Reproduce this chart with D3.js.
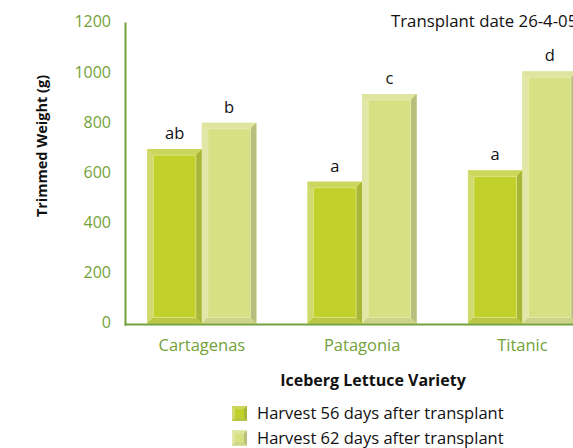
<!DOCTYPE html>
<html>
<head>
<meta charset="utf-8">
<script src="https://cdn.jsdelivr.net/npm/d3@7"></script>
<style>
  body { margin: 0; background: #fff; }
  svg { display: block; font-family: "Open Sans", "Noto Sans", sans-serif; }
</style>
</head>
<body>
<div id="chart"></div>
<script>
// data
var varieties = ["Cartagenas", "Patagonia", "Titanic"];
var seriesNames = ["Harvest 56 days after transplant", "Harvest 62 days after transplant"];
var harvest56 = [695, 565, 610];
var harvest62 = [800, 915, 1005];
var letters56 = ["ab", "a", "a"];
var letters62 = ["b", "c", "d"];
var yTicks = [0, 200, 400, 600, 800, 1000, 1200];

var svgWidth = 573, svgHeight = 448;
var axisGreen = "#74a23a";

// colours for the two series: face, light bevel, dark bevel, inner highlight
var palette = [
  { face: "#c2d02b", top: "#cad65c", left: "#d0da6e", right: "#a8b638", bottom: "#b9c745", hi: "#dfe88a" },
  { face: "#d8e084", top: "#dfe59e", left: "#e2e7a8", right: "#b8bf7c", bottom: "#cdd48a", hi: "#e8ecb4" }
];

var svg = d3.select("#chart").append("svg")
  .attr("width", svgWidth)
  .attr("height", svgHeight);

var x0 = d3.scaleBand()
  .domain(varieties)
  .range([121.7, 602.6])
  .paddingInner(0.32)
  .paddingOuter(0.16);

var x1 = d3.scaleBand()
  .domain([0, 1])
  .range([0, x0.bandwidth()]);

var y = d3.scaleLinear()
  .domain([0, 1200])
  .range([323.5, 22.5]);

// y tick labels
var yAxis = svg.append("g")
  .attr("transform", "translate(111,0)")
  .call(d3.axisLeft(y).tickValues(yTicks).tickFormat(d3.format("d")).tickSize(0).tickPadding(0));
yAxis.select(".domain").remove();
yAxis.selectAll("text")
  .attr("fill", axisGreen)
  .style("font-size", "16px")
  .style("font-family", "'Open Sans', sans-serif")
  .attr("dy", "0.28em");

// bars
var rows = varieties.map(function(v, i) {
  return { variety: v, values: [harvest56[i], harvest62[i]], letters: [letters56[i], letters62[i]] };
});

var groups = svg.selectAll(".group")
  .data(rows)
  .enter().append("g")
  .attr("class", "group")
  .attr("transform", d => `translate(${x0(d.variety)},0)`);

var bev = 6;
groups.each(function(d) {
  var g = d3.select(this);
  d.values.forEach(function(val, s) {
    var c = palette[s];
    var xl = x1(s), xr = x1(s) + x1.bandwidth();
    var yt = y(val), yb = y(0);
    g.append("rect")
      .attr("x", xl).attr("y", yt)
      .attr("width", xr - xl).attr("height", yb - yt)
      .attr("fill", c.face);
    var pts = {
      top: [[xl, yt], [xr, yt], [xr - bev, yt + bev], [xl + bev, yt + bev]],
      left: [[xl, yt], [xl + bev, yt + bev], [xl + bev, yb - bev], [xl, yb]],
      right: [[xr, yt], [xr, yb], [xr - bev, yb - bev], [xr - bev, yt + bev]],
      bottom: [[xl, yb], [xl + bev, yb - bev], [xr - bev, yb - bev], [xr, yb]]
    };
    Object.keys(pts).forEach(function(k) {
      g.append("polygon")
        .attr("points", pts[k].map(p => p.join(",")).join(" "))
        .attr("fill", c[k]);
    });
    g.append("rect")
      .attr("x", xl + bev).attr("y", yt + bev)
      .attr("width", xr - xl - 2 * bev).attr("height", yb - yt - 2 * bev)
      .attr("fill", "none")
      .attr("stroke", c.hi)
      .attr("stroke-width", 0.8);
    g.append("text")
      .attr("x", (xl + xr) / 2)
      .attr("y", yt - 10)
      .attr("text-anchor", "middle")
      .style("font-size", "16.5px")
      .attr("fill", "#111")
      .text(d.letters[s]);
  });
});

// axis lines
svg.append("line")
  .attr("x1", 125.5).attr("x2", 125.5)
  .attr("y1", y(1200)).attr("y2", 325.5)
  .attr("stroke", axisGreen).attr("stroke-width", 2);
svg.append("line")
  .attr("x1", 124.5).attr("x2", svgWidth)
  .attr("y1", 324.5).attr("y2", 324.5)
  .attr("stroke", axisGreen).attr("stroke-width", 2);

// category labels
var xAxis = svg.append("g")
  .attr("transform", "translate(0,324)")
  .call(d3.axisBottom(x0).tickSize(0).tickPadding(0));
xAxis.select(".domain").remove();
xAxis.selectAll("text")
  .attr("fill", axisGreen)
  .style("font-size", "16.5px")
  .style("font-family", "'Open Sans', sans-serif")
  .attr("dy", "1.65em");

// axis titles
svg.append("text")
  .attr("x", 373).attr("y", 386)
  .attr("text-anchor", "middle")
  .style("font-size", "16px")
  .style("font-weight", "bold")
  .attr("fill", "#111")
  .text("Iceberg Lettuce Variety");

svg.append("text")
  .attr("transform", "translate(47,146) rotate(-90)")
  .attr("text-anchor", "middle")
  .style("font-size", "14.5px")
  .style("font-weight", "bold")
  .attr("fill", "#111")
  .text("Trimmed Weight (g)");

// note top right
svg.append("text")
  .attr("x", 391).attr("y", 27)
  .style("font-size", "16.8px")
  .attr("fill", "#111")
  .text("Transplant date 26-4-05");

// legend
var legend = svg.selectAll(".legend")
  .data(seriesNames)
  .enter().append("g")
  .attr("class", "legend")
  .attr("transform", (d, i) => `translate(232,${406 + i * 24.5})`);

legend.each(function(d, i) {
  var g = d3.select(this);
  var c = palette[i], s = 15, b = 3;
  g.append("rect").attr("width", s).attr("height", s).attr("fill", c.face);
  var p = {
    top: [[0, 0], [s, 0], [s - b, b], [b, b]],
    left: [[0, 0], [b, b], [b, s - b], [0, s]],
    right: [[s, 0], [s, s], [s - b, s - b], [s - b, b]],
    bottom: [[0, s], [b, s - b], [s - b, s - b], [s, s]]
  };
  Object.keys(p).forEach(function(k) {
    g.append("polygon").attr("points", p[k].map(q => q.join(",")).join(" ")).attr("fill", c[k]);
  });
  g.append("text")
    .attr("x", 25).attr("y", 13)
    .style("font-size", "16.5px")
    .attr("fill", "#111")
    .text(d);
});
</script>
</body>
</html>
